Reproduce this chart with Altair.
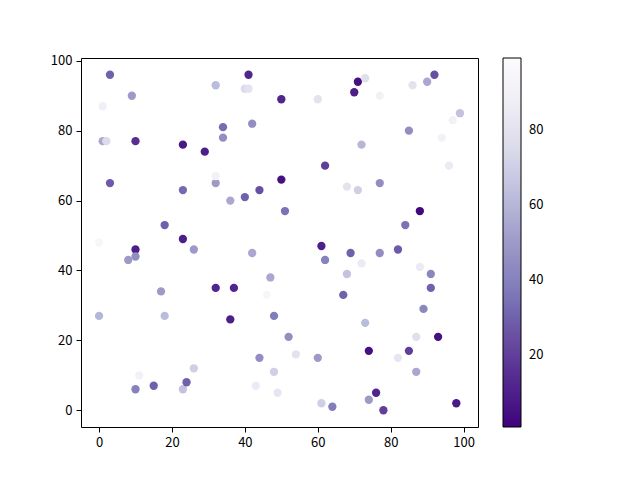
import pandas as pd
import altair as alt

# scatter points: x, y and the colour value
xs = [3, 9, 1, 1, 2, 10, 3, 23, 29, 34, 34, 32, 41, 40, 41, 42, 50, 23, 32, 32,
      36, 40, 44, 18, 50, 51, 10, 10, 8, 23, 26, 0, 17, 0, 18, 32, 37, 36, 47, 46,
      48, 11, 10, 15, 23, 24, 26, 42, 43, 44, 48, 49, 52, 54, 60, 61, 64, 60, 62, 71,
      70, 73, 77, 68, 71, 72, 77, 86, 90, 92, 85, 94, 97, 99, 96, 84, 88, 82, 88, 91,
      91, 61, 62, 69, 77, 67, 68, 72, 73, 74, 89, 87, 93, 82, 85, 87, 74, 76, 78, 98]
ys = [96, 90, 87, 77, 77, 77, 65, 76, 74, 81, 78, 93, 96, 92, 92, 82, 89, 63, 65, 67,
      60, 61, 63, 53, 66, 57, 46, 44, 43, 49, 46, 48, 34, 27, 27, 35, 35, 26, 38, 33,
      27, 10, 6, 7, 6, 8, 12, 45, 7, 15, 11, 5, 21, 16, 15, 2, 1, 89, 70, 94,
      91, 95, 90, 64, 63, 76, 65, 93, 94, 96, 80, 78, 83, 85, 70, 53, 57, 46, 41, 39,
      35, 47, 43, 45, 45, 33, 39, 42, 25, 17, 29, 21, 21, 15, 17, 11, 3, 5, 0, 2]
cs = [30, 50, 88, 55, 75, 15, 28, 8, 10, 33, 45, 62, 12, 75, 80, 45, 12, 32, 50, 90,
      55, 30, 25, 30, 5, 35, 10, 45, 50, 10, 50, 95, 50, 60, 62, 12, 12, 10, 55, 95,
      38, 90, 40, 30, 65, 30, 70, 55, 85, 45, 70, 82, 45, 80, 50, 70, 38, 80, 20, 5,
      10, 78, 90, 80, 70, 60, 45, 80, 55, 25, 45, 90, 90, 65, 85, 35, 3, 28, 85, 42,
      30, 10, 40, 30, 45, 30, 65, 85, 62, 5, 42, 78, 5, 82, 20, 55, 50, 12, 20, 8]

colorbar_ticks = [20, 40, 60, 80]
c_min, c_max = 1, 99

# matplotlib Purples_r stops
purples_r = ["#3f007d", "#54278f", "#6a51a3", "#807dba", "#9e9ac8",
             "#bcbddc", "#dadaeb", "#efedf5", "#fcfbfd"]
stops = [c_min + i * (c_max - c_min) / (len(purples_r) - 1) for i in range(len(purples_r))]

df = pd.DataFrame({'x': xs, 'y': ys, 'c': cs})

FONT = "Noto Sans CJK SC"

chart = alt.Chart(df).mark_circle(size=69, opacity=1).encode(
    x=alt.X('x:Q', scale=alt.Scale(domain=[-4.95, 103.95], nice=False, zero=False),
            axis=alt.Axis(title=None, values=[0, 20, 40, 60, 80, 100])),
    y=alt.Y('y:Q', scale=alt.Scale(domain=[-4.8, 100.8], nice=False, zero=False),
            axis=alt.Axis(title=None, values=[0, 20, 40, 60, 80, 100])),
    color=alt.Color('c:Q',
                    scale=alt.Scale(domain=stops, range=purples_r),
                    legend=alt.Legend(title="", orient="none", legendX=422, legendY=0,
                                      direction="vertical", gradientLength=369,
                                      gradientThickness=18, gradientStrokeColor="black",
                                      gradientStrokeWidth=1, values=colorbar_ticks,
                                      labelFontSize=13, labelFont=FONT, labelColor="black",
                                      labelOffset=8, padding=0)),
).properties(
    width=397,
    height=369,
    autosize=alt.AutoSizeParams(type="none"),
    padding={"left": 73, "top": 50, "right": 150, "bottom": 45},
).configure_view(
    stroke="black", strokeWidth=1
).configure_axis(
    grid=False, domainColor="black", tickColor="black", tickSize=5,
    labelFont=FONT, labelFontSize=13, labelColor="black", labelPadding=4,
    domain=False
)

chart.save("out.html", embed_options={"renderer": "svg", "actions": False})
